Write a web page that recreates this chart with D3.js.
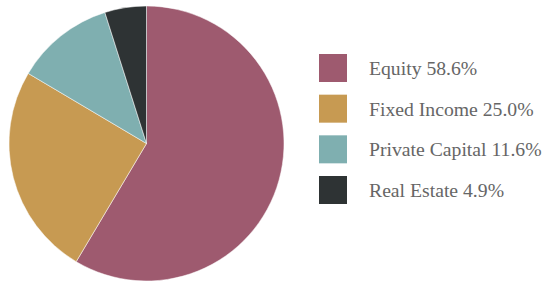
<!DOCTYPE html>
<html>
<head>
<meta charset="utf-8">
<script src="https://cdn.jsdelivr.net/npm/d3@7"></script>
<style>
  body { margin: 0; background: #fff; }
  .legend text { font-family: "Liberation Serif", "Times New Roman", serif; font-size: 19.7px; fill: #666; }
</style>
</head>
<body>
<div id="chart"></div>
<script>
var categories = ["Equity", "Fixed Income", "Private Capital", "Real Estate"];
var shares = [58.6, 25.0, 11.6, 4.9];
var colors = ["#9e5a6f", "#c79a52", "#7fafb0", "#2e3334"];

var svgWidth = 544;
var svgHeight = 282;

var svg = d3.select("#chart")
  .append("svg")
  .attr("width", svgWidth)
  .attr("height", svgHeight);

var data = categories.map(function(c, i) {
  return { name: c, value: shares[i], color: colors[i] };
});

var radius = 137.5;

var pieGroup = svg.append("g")
  .attr("transform", "translate(146.5, 143.5)");

var pie = d3.pie()
  .sort(null)
  .value(d => d.value);

var arc = d3.arc()
  .innerRadius(0)
  .outerRadius(radius);

pieGroup.selectAll("path")
  .data(pie(data))
  .enter()
  .append("path")
  .attr("d", arc)
  .attr("fill", d => d.data.color)
  .attr("stroke", "#fff")
  .attr("stroke-width", 0.5);

// legend
var legendY = d3.scalePoint()
  .domain(categories)
  .range([54, 176]);

var legend = svg.append("g").attr("class", "legend");

var items = legend.selectAll("g")
  .data(data)
  .enter()
  .append("g")
  .attr("transform", d => `translate(319, ${legendY(d.name)})`);

items.append("rect")
  .attr("width", 28)
  .attr("height", 28)
  .attr("fill", d => d.color);

items.append("text")
  .attr("x", 50)
  .attr("y", 21)
  .text(d => `${d.name} ${d.value.toFixed(1)}%`);
</script>
</body>
</html>
